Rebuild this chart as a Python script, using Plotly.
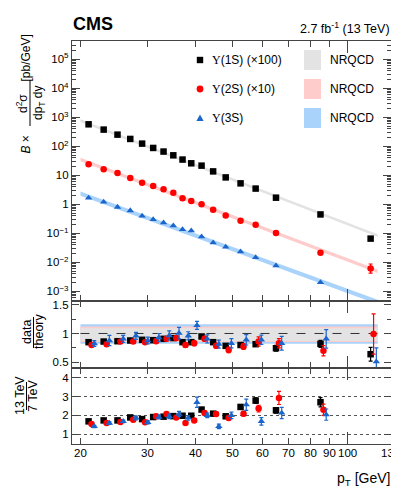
import math
import plotly.graph_objects as go

# pT bin centres [GeV]
pt = [21, 23, 25, 27, 29, 31, 33, 35, 37, 39, 41.5, 44.5, 48, 52.5, 57.5, 65, 85, 115]

# B x d2sigma/dpT dy [pb/GeV], as drawn (1S x100, 2S x10)
xs_1s = [574, 377, 253, 180, 124, 88, 66, 49, 35, 26, 21.6, 13.7, 8.5, 5.3, 3.5, 1.70, 0.45, 0.066]
xs_2s = [23.9, 16.1, 12.1, 8.1, 5.6, 4.3, 3.29, 2.53, 1.61, 1.31, 1.0, 0.656, 0.41, 0.274, 0.20, 0.103, 0.0216, 0.0062]
xs_3s = [1.66, 1.21, 0.81, 0.61, 0.40, 0.304, 0.234, 0.184, 0.137, 0.124, 0.077, 0.0478, 0.034, 0.0234, 0.0149, 0.0077, 0.00204, 0.0003]
xs_err_2s_hi = [0]*17 + [0.0026]
xs_err_2s_lo = [0]*17 + [0.0019]

# NRQCD curves
pt_th = [20, 30, 50, 80, 120]
th_1s = [794, 100, 7.4, 0.68, 0.0855]
th_2s = [36.3, 4.88, 0.389, 0.038, 0.00512]
th_3s = [2.40, 0.343, 0.0295, 0.00309, 0.000443]
band_lo = [0.87, 0.85, 0.82]
band_hi = [1.09, 1.12, 1.16]

# data / theory
ratio_1s = [0.849, 0.86, 0.866, 0.878, 0.89, 0.884, 0.907, 0.92, 0.849, 0.849, 0.948, 0.849, 0.785, 0.80, 0.814, 0.744, 0.82, 0.64]
ratio_2s = [0.80, 0.814, 0.86, 0.86, 0.849, 0.866, 0.907, 0.92, 0.80, 0.83, 0.91, 0.785, 0.715, 0.773, 0.86, 0.83, 0.70, 0.99]
ratio_3s = [0.826, 0.878, 0.907, 0.959, 0.878, 0.93, 0.965, 1.005, 0.96, 1.14, 0.905, 0.814, 0.83, 0.89, 0.89, 0.83, 0.907, 0.51]
ratio_err_1s = [0.02]*10 + [0.03, 0.03, 0.03, 0.04, 0.04, 0.05, 0.06, 0.12]
ratio_err_2s = [0.03]*8 + [0.04, 0.04, 0.04, 0.04, 0.05, 0.05, 0.08, 0.08, 0.09, 0.35]
ratio_err_3s = [0.05, 0.09, 0.06, 0.06, 0.06, 0.07, 0.08, 0.10, 0.07, 0.07, 0.07, 0.07, 0.08, 0.09, 0.08, 0.12, 0.16, 0.24]

# 13 TeV / 7 TeV (up to 85 GeV)
pt_r = pt[:17]
r13_1s = [1.68, 1.73, 1.73, 1.89, 1.80, 1.91, 1.93, 1.96, 1.98, 1.98, 2.31, 2.09, 1.95, 2.45, 2.79, 2.27, 2.70]
r13_2s = [1.54, 1.59, 1.64, 1.77, 1.63, 1.95, 2.07, 1.89, 1.59, 1.73, 2.13, 2.07, 1.86, 2.09, 2.36, 2.93, 2.30]
r13_3s = [1.41, 1.59, 1.68, 1.86, 1.63, 1.91, 1.95, 2.07, 1.86, 2.70, 2.0, 1.41, 2.0, 2.57, 1.68, 2.13, 2.04]
r13_err_1s = [0.04]*10 + [0.07, 0.07, 0.08, 0.12, 0.15, 0.15, 0.25]
r13_err_2s = [0.05]*10 + [0.08, 0.10, 0.10, 0.12, 0.18, 0.35, 0.30]
r13_err_3s = [0.06, 0.07, 0.07, 0.10, 0.08, 0.10, 0.12, 0.14, 0.12, 0.27, 0.12, 0.12, 0.17, 0.30, 0.20, 0.30, 0.30]

x_ticks = [20, 30, 40, 50, 60, 70, 80, 90]
x_tick_long = [100]
x_labels = [20, 30, 40, 50, 60, 70, 80, 90, 100, 130]

BLACK = '#000000'
RED = '#ff0000'
BLUE = '#1a66cc'
GRAY_BAND = '#e3e3e3'
RED_BAND = '#ffcccc'
BLUE_BAND = '#a9d3fb'
FONT = 'Liberation Sans'

W, H = 399, 487
L, R, T, B = 64, 16, 33, 51
PW, PH = W - L - R, H - T - B


def xp(px):
    return (px - L) / PW


def yp(py):
    return (H - B - py) / PH


fig = go.Figure()

# ---- top panel: bands then data
for th, lo, hi, col in [(th_1s, band_lo[0], band_hi[0], GRAY_BAND),
                        (th_2s, band_lo[1], band_hi[1], RED_BAND),
                        (th_3s, band_lo[2], band_hi[2], BLUE_BAND)]:
    fig.add_trace(go.Scatter(
        x=pt_th + pt_th[::-1],
        y=[v * hi for v in th] + [v * lo for v in th][::-1],
        fill='toself', fillcolor=col, line=dict(width=0), mode='lines',
        xaxis='x', yaxis='y', showlegend=False, hoverinfo='skip'))

for ys, col, sym, eh, el in [(xs_1s, BLACK, 'square', None, None),
                             (xs_2s, RED, 'circle', xs_err_2s_hi, xs_err_2s_lo),
                             (xs_3s, BLUE, 'triangle-up', None, None)]:
    fig.add_trace(go.Scatter(
        x=pt, y=ys, mode='markers',
        marker=dict(symbol=sym, size=6.5, color=col),
        error_y=dict(type='data', array=eh, arrayminus=el, color=col, thickness=1.2, width=2,
                     visible=eh is not None),
        xaxis='x', yaxis='y', showlegend=False))

# ---- data/theory panel
for th, lo, hi, col in [(th_3s, band_lo[2], band_hi[2], BLUE_BAND),
                        (th_2s, band_lo[1], band_hi[1], RED_BAND),
                        (th_1s, band_lo[0], band_hi[0], GRAY_BAND)]:
    fig.add_trace(go.Scatter(
        x=pt_th + pt_th[::-1],
        y=[hi] * len(pt_th) + [lo] * len(pt_th),
        fill='toself', fillcolor=col, line=dict(width=0), mode='lines',
        xaxis='x2', yaxis='y2', showlegend=False, hoverinfo='skip'))

fig.add_trace(go.Scatter(x=[20, 125], y=[1, 1], mode='lines',
                         line=dict(color='#333333', width=1, dash='dash'),
                         xaxis='x2', yaxis='y2', showlegend=False))

shift = [1.0, 1.018, 1.035]
for k, (ys, err, col, sym) in enumerate([(ratio_1s, ratio_err_1s, BLACK, 'square'),
                                         (ratio_2s, ratio_err_2s, RED, 'circle'),
                                         (ratio_3s, ratio_err_3s, BLUE, 'triangle-up')]):
    fig.add_trace(go.Scatter(
        x=[p * shift[k] for p in pt], y=ys, mode='markers',
        marker=dict(symbol=sym, size=6.5, color=col),
        error_y=dict(type='data', array=err, color=col, thickness=1.2, width=2),
        xaxis='x2', yaxis='y2', showlegend=False))

# ---- 13 TeV / 7 TeV panel
for k, (ys, err, col, sym) in enumerate([(r13_1s, r13_err_1s, BLACK, 'square'),
                                         (r13_2s, r13_err_2s, RED, 'circle'),
                                         (r13_3s, r13_err_3s, BLUE, 'triangle-up')]):
    fig.add_trace(go.Scatter(
        x=[p * shift[k] for p in pt_r], y=ys, mode='markers',
        marker=dict(symbol=sym, size=6.5, color=col),
        error_y=dict(type='data', array=err, color=col, thickness=1.2, width=2),
        xaxis='x3', yaxis='y3', showlegend=False))

# ---- axes
frame = dict(showline=True, linecolor='#444444', linewidth=1.2, mirror='ticks',
             ticks='inside', tickcolor='#444444', tickwidth=1,
             tickfont=dict(family=FONT, size=11.5, color='black'), zeroline=False, showgrid=False)

d_top = [yp(293), 1]
d_mid = [yp(360), yp(293)]
d_bot = [0, yp(360)]

xaxis_common = dict(type='log', range=[1.2788, 2.11405], tickvals=x_ticks, ticklen=6,
                    showticklabels=False,
                    minor=dict(tickvals=x_tick_long, ticklen=12, ticks='inside', tickcolor='#444444'),
                    **frame)
fig.update_layout(
    xaxis=dict(anchor='y', matches='x3', **xaxis_common),
    xaxis2=dict(anchor='y2', matches='x3', **xaxis_common),
    xaxis3=dict(anchor='y3', **xaxis_common),
)

top_vals = [10.0 ** e for e in range(-3, 6)]
top_text = ['10<sup>\u22123</sup>', '10<sup>\u22122</sup>', '10<sup>\u22121</sup>', '1', '10',
            '10<sup>2</sup>', '10<sup>3</sup>', '10<sup>4</sup>', '10<sup>5</sup>']
top_minor = [m * 10.0 ** e for e in range(-4, 6) for m in range(2, 10)]
fig.update_layout(
    yaxis=dict(domain=d_top, anchor='x', type='log', range=[-3.33, 5.63],
               tickvals=top_vals, ticktext=top_text, ticklen=8,
               minor=dict(tickvals=top_minor, ticklen=4, ticks='inside', tickcolor='#444444'),
               **frame),
    yaxis2=dict(domain=d_mid, anchor='x2', range=[0.4, 1.565],
                tickvals=[0.5, 1, 1.5], ticktext=['0.5', '1', '1.5'], ticklen=7,
                minor=dict(tickvals=[0.75, 1.25], ticklen=4, ticks='inside', tickcolor='#444444'),
                **frame),
    yaxis3=dict(domain=d_bot, anchor='x3', range=[0.47, 4.53],
                tickvals=[1, 2, 3, 4], ticklen=7,
                **{**frame, 'showgrid': True}, gridcolor='#555555', griddash='dot', gridwidth=1),
)

shapes = []

# legend glyphs
leg_rows = [52, 81, 110]
mx = 192
shapes.append(dict(type='rect', xref='paper', yref='paper', xsizemode='pixel', ysizemode='pixel',
                   xanchor=xp(mx), yanchor=yp(leg_rows[0]), x0=-3.2, x1=3.2, y0=-3.2, y1=3.2,
                   fillcolor=BLACK, line=dict(width=0)))
shapes.append(dict(type='circle', xref='paper', yref='paper', xsizemode='pixel', ysizemode='pixel',
                   xanchor=xp(mx), yanchor=yp(leg_rows[1]), x0=-3.4, x1=3.4, y0=-3.4, y1=3.4,
                   fillcolor=RED, line=dict(width=0)))
shapes.append(dict(type='path', xref='paper', yref='paper', xsizemode='pixel', ysizemode='pixel',
                   xanchor=xp(mx), yanchor=yp(leg_rows[2]), path='M -3.6,-3 L 3.6,-3 L 0,3.6 Z',
                   fillcolor=BLUE, line=dict(width=0)))
for row, col in zip(leg_rows, [GRAY_BAND, RED_BAND, BLUE_BAND]):
    shapes.append(dict(type='rect', xref='paper', yref='paper',
                       x0=xp(296), x1=xp(313), y0=yp(row + 10), y1=yp(row - 10),
                       fillcolor=col, line=dict(width=0), layer='below'))

# fraction bars of the axis titles
for x, y0, y1 in [(22, 72, 118), (25.5, 309, 340), (18.5, 374, 402)]:
    shapes.append(dict(type='line', xref='paper', yref='paper', x0=xp(x), x1=xp(x),
                       y0=yp(y0), y1=yp(y1), line=dict(color='black', width=1)))

fig.update_layout(shapes=shapes)

ups = '<span style="font-family:Liberation Serif">\u03a5</span>'


def note(text, x, y, size=12.5, xa='left', ya='middle', angle=0, bold=False):
    return dict(text=f'<b>{text}</b>' if bold else text, x=xp(x), y=yp(y), xref='paper', yref='paper',
                xanchor=xa, yanchor=ya, textangle=angle, showarrow=False,
                font=dict(family=FONT, size=size, color='black'))


annotations = [
    note('CMS', 63, 28, size=18, ya='bottom', bold=True),
    note('2.7 fb<sup>-1</sup> (13 TeV)', 384, 30, size=12.5, xa='right', ya='bottom'),
    note(ups + '(1S) (\u00d7100)', 202, leg_rows[0], size=12),
    note(ups + '(2S) (\u00d710)', 202, leg_rows[1], size=12),
    note(ups + '(3S)', 202, leg_rows[2], size=12),
    note('NRQCD', 320, leg_rows[0], size=12),
    note('NRQCD', 320, leg_rows[1], size=12),
    note('NRQCD', 320, leg_rows[2], size=12),
    note('p<sub>T</sub> [GeV]', 384, 471, size=14, xa='right'),
    # y title top panel
    note('<i>B</i> \u00d7', 17.5, 136, size=12, xa='center', angle=-90),
    note('d<sup>2</sup>\u03c3', 14, 95, size=12, xa='center', angle=-90),
    note('dp<sub>T</sub> dy', 31, 95, size=12, xa='center', angle=-90),
    note('[pb/GeV]', 17.5, 50, size=12, xa='center', angle=-90),
    # data/theory
    note('data', 19, 324, size=12.5, xa='center', angle=-90),
    note('theory', 31, 324, size=12.5, xa='center', angle=-90),
    # 13 TeV / 7 TeV
    note('13 TeV', 12, 388, size=12.5, xa='center', angle=-90),
    note('7 TeV', 25, 388, size=12.5, xa='center', angle=-90),
]

# x tick labels (drawn as annotations so that 90 and 100 may touch as in the original)
for v in x_labels:
    annotations.append(dict(text=str(v), x=math.log10(v), xref='x3', y=yp(445), yref='paper',
                            xanchor='center', yanchor='middle', showarrow=False,
                            font=dict(family=FONT, size=11.5, color='black')))

fig.update_layout(annotations=annotations)

fig.update_layout(
    width=W, height=H,
    margin=dict(l=L, r=R, t=T, b=B),
    paper_bgcolor='white', plot_bgcolor='white',
    showlegend=False,
    font=dict(family=FONT, color='black'),
)

fig.write_html("out.html")
